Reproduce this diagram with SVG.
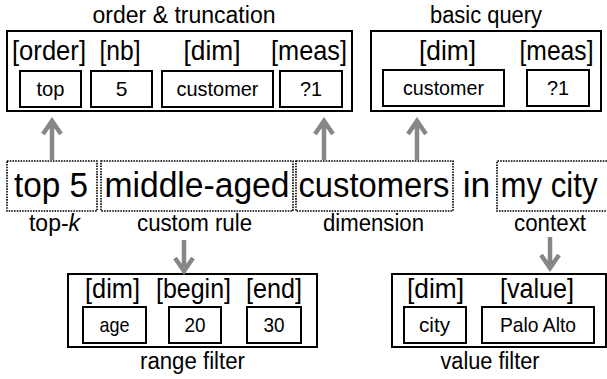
<svg xmlns="http://www.w3.org/2000/svg" width="607" height="379" viewBox="0 0 607 379">
  <style>
    text { font-family: "Liberation Sans", Arial, sans-serif; fill: #000; text-anchor: middle; }
    .title { font-size: 23px; }
    .slot { font-size: 27.5px; }
    .val { font-size: 21px; }
    .word { font-size: 35.5px; }
    .frame { fill: #fff; stroke: #000; stroke-width: 2; }
    .cell { fill: #fff; stroke: #000; stroke-width: 2; }
    .span { fill: none; stroke: #000; stroke-width: 1.6; stroke-dasharray: 1.6 1.1; }
    .arrow { fill: none; stroke: #878787; stroke-width: 4.5; }
  </style>

  <!-- order & truncation operator -->
  <g id="order-truncation">
    <text class="title" x="184" y="23" textLength="183" lengthAdjust="spacingAndGlyphs">order &amp; truncation</text>
    <rect class="frame" x="7" y="31" width="345" height="80"/>
    <text class="slot" x="49" y="60" textLength="74" lengthAdjust="spacingAndGlyphs">[order]</text>
    <text class="slot" x="120" y="60" textLength="41" lengthAdjust="spacingAndGlyphs">[nb]</text>
    <text class="slot" x="212" y="60" textLength="57" lengthAdjust="spacingAndGlyphs">[dim]</text>
    <text class="slot" x="309" y="60" textLength="76" lengthAdjust="spacingAndGlyphs">[meas]</text>
    <rect class="cell" x="20" y="71" width="61" height="36"/>
    <text class="val" x="50.5" y="96" textLength="28" lengthAdjust="spacingAndGlyphs">top</text>
    <rect class="cell" x="91" y="71" width="61" height="36"/>
    <text class="val" x="121.5" y="96">5</text>
    <rect class="cell" x="162" y="71" width="111" height="36"/>
    <text class="val" x="217.5" y="96" textLength="82" lengthAdjust="spacingAndGlyphs">customer</text>
    <rect class="cell" x="280" y="71" width="62" height="36"/>
    <text class="val" x="311" y="96" textLength="22" lengthAdjust="spacingAndGlyphs">?1</text>
  </g>

  <!-- basic query operator -->
  <g id="basic-query">
    <text class="title" x="486" y="23" textLength="112" lengthAdjust="spacingAndGlyphs">basic query</text>
    <rect class="frame" x="371" y="31" width="230" height="80"/>
    <text class="slot" x="447.5" y="60" textLength="57" lengthAdjust="spacingAndGlyphs">[dim]</text>
    <text class="slot" x="556.5" y="60" textLength="74" lengthAdjust="spacingAndGlyphs">[meas]</text>
    <rect class="cell" x="383" y="70" width="121" height="36"/>
    <text class="val" x="443.5" y="95" textLength="81" lengthAdjust="spacingAndGlyphs">customer</text>
    <rect class="cell" x="527" y="70" width="62" height="36"/>
    <text class="val" x="558" y="95" textLength="22" lengthAdjust="spacingAndGlyphs">?1</text>
  </g>

  <!-- query phrase segments -->
  <g id="seg-top5">
    <rect class="span" x="7" y="161" width="90" height="50"/>
    <text class="word" x="51" y="197" textLength="74" lengthAdjust="spacingAndGlyphs">top 5</text>
    <text class="title" x="54.5" y="231" textLength="51" lengthAdjust="spacingAndGlyphs">top-<tspan font-style="italic">k</tspan></text>
  </g>
  <g id="seg-middle-aged">
    <rect class="span" x="101" y="161" width="192" height="50"/>
    <text class="word" x="197" y="197" textLength="185" lengthAdjust="spacingAndGlyphs">middle-aged</text>
    <text class="title" x="194.5" y="231" textLength="115" lengthAdjust="spacingAndGlyphs">custom rule</text>
  </g>
  <g id="seg-customers">
    <rect class="span" x="296" y="161" width="157" height="50"/>
    <text class="word" x="374" y="197" textLength="151" lengthAdjust="spacingAndGlyphs">customers</text>
    <text class="title" x="373.5" y="231" textLength="101" lengthAdjust="spacingAndGlyphs">dimension</text>
  </g>
  <g id="word-in">
    <text class="word" x="476.5" y="197">in</text>
  </g>
  <g id="seg-my-city">
    <!-- open on the right: the segment runs to the page edge -->
    <path class="span" d="M607 161H497V211H607"/>
    <text class="word" x="549" y="197" font-size="34" textLength="97" lengthAdjust="spacingAndGlyphs">my city</text>
    <text class="title" x="550" y="231" textLength="72" lengthAdjust="spacingAndGlyphs">context</text>
  </g>

  <!-- range filter operator -->
  <g id="range-filter">
    <rect class="frame" x="68" y="274" width="249" height="73"/>
    <text class="slot" x="112.5" y="298" textLength="55" lengthAdjust="spacingAndGlyphs">[dim]</text>
    <text class="slot" x="193.5" y="298" textLength="75" lengthAdjust="spacingAndGlyphs">[begin]</text>
    <text class="slot" x="274" y="298" textLength="56" lengthAdjust="spacingAndGlyphs">[end]</text>
    <rect class="cell" x="83" y="307" width="63" height="36"/>
    <text class="val" x="114.5" y="332" textLength="30" lengthAdjust="spacingAndGlyphs">age</text>
    <rect class="cell" x="169" y="307" width="52" height="36"/>
    <text class="val" x="195" y="332" textLength="21" lengthAdjust="spacingAndGlyphs">20</text>
    <rect class="cell" x="247" y="307" width="54" height="36"/>
    <text class="val" x="274" y="332" textLength="21" lengthAdjust="spacingAndGlyphs">30</text>
    <text class="title" x="192.5" y="369" textLength="105" lengthAdjust="spacingAndGlyphs">range filter</text>
  </g>

  <!-- value filter operator -->
  <g id="value-filter">
    <rect class="frame" x="392" y="274" width="214" height="73"/>
    <text class="slot" x="435.5" y="298" textLength="57" lengthAdjust="spacingAndGlyphs">[dim]</text>
    <text class="slot" x="537" y="298" textLength="74" lengthAdjust="spacingAndGlyphs">[value]</text>
    <rect class="cell" x="404" y="307" width="62" height="36"/>
    <text class="val" x="434.5" y="332" textLength="31" lengthAdjust="spacingAndGlyphs">city</text>
    <rect class="cell" x="482" y="307" width="112" height="36"/>
    <text class="val" x="538" y="332" textLength="76" lengthAdjust="spacingAndGlyphs">Palo Alto</text>
    <text class="title" x="490" y="369" textLength="99" lengthAdjust="spacingAndGlyphs">value filter</text>
  </g>

  <!-- mapping arrows -->
  <g id="connectors">
    <path class="arrow" d="M52 160V122M43 134L52 121L61 134"/>
    <path class="arrow" d="M324 160V122M315 134L324 121L333 134"/>
    <path class="arrow" d="M417 160V122M408 134L417 121L426 134"/>
    <path class="arrow" d="M184 240V270M175 258L184 271L193 258"/>
    <path class="arrow" d="M550 237V268M541 255L550 268L559 255"/>
  </g>
</svg>
